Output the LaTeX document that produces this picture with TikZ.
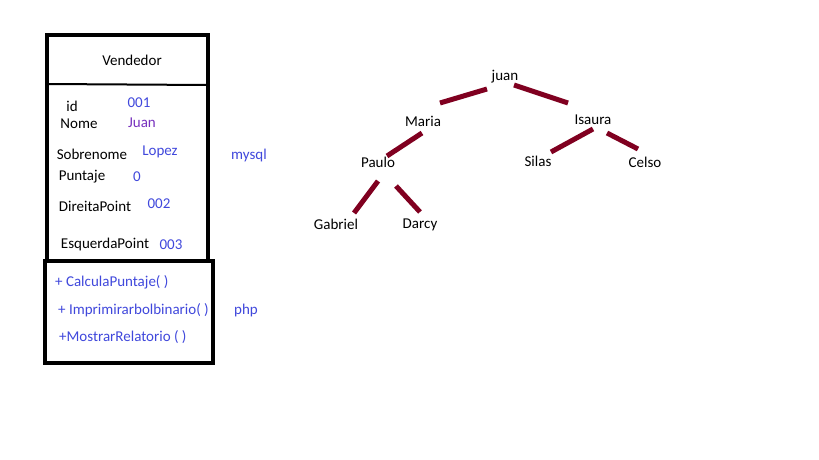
\documentclass[tikz,border=0pt]{standalone}
\usepackage{fontspec}
\setmainfont{Carlito}
\definecolor{valblue}{RGB}{64,72,220}
\definecolor{valpurple}{RGB}{120,50,190}
\definecolor{edgered}{RGB}{128,0,32}
\begin{document}
\begin{tikzpicture}[x=1pt,y=-1pt,
  every node/.style={font=\fontsize{15}{18}\selectfont, inner sep=0pt},
  lbl/.style={text=black},
  val/.style={text=valblue},
  meth/.style={text=valblue, anchor=west},
  tnode/.style={text=black},
  branch/.style={draw=edgered, line width=5pt}
]
\useasboundingbox[fill=white] (0,0) rectangle (819,460);
% class box
\draw[line width=4pt] (47,35) rectangle (208,261);
\draw[line width=2pt] (47,84) -- (207,85);
\draw[line width=4pt] (45,261) rectangle (213,363);
\node[lbl] (vend) at (132,60) {Vendedor};
\node[lbl] (id) at (72,106) {id};
\node[val] (v1) at (139,103) {001};
\node[lbl] (nome) at (79,124) {Nome};
\node[text=valpurple] (v2) at (142,123) {Juan};
\node[lbl] (sob) at (92,154) {Sobrenome};
\node[val] (v3) at (160,152) {Lopez};
\node[lbl] (punt) at (82,177) {Puntaje};
\node[val] (v4) at (137,177) {0};
\node[lbl] (dir) at (95,206) {DireitaPoint};
\node[val] (v5) at (159,204) {002};
\node[lbl] (esq) at (105,244) {EsquerdaPoint};
\node[val] (v6) at (171,245) {003};
\node[meth] (m1) at (55,282) {+ CalculaPuntaje( )};
\node[meth] (m2) at (58,310) {+ Imprimirarbolbinario( )};
\node[meth] (m3) at (59,337) {+MostrarRelatorio ( )};
\node[val] (mysql) at (249,156) {mysql};
\node[val] (php) at (246,310) {php};
% tree
\node[tnode] (juan) at (505,77) {juan};
\node[tnode] (maria) at (423,121) {Maria};
\node[tnode] (isaura) at (593,120) {Isaura};
\node[tnode] (paulo) at (378,162) {Paulo};
\node[tnode] (silas) at (538,161) {Silas};
\node[tnode] (celso) at (645,162) {Celso};
\node[tnode] (gabriel) at (336,224) {Gabriel};
\node[tnode] (darcy) at (420,225) {Darcy};
\coordinate (jm1) at (487,89); \coordinate (jm2) at (440,103);
\coordinate (ji1) at (514,85); \coordinate (ji2) at (568,103);
\coordinate (mp1) at (422,133); \coordinate (mp2) at (387,156);
\coordinate (is1) at (593,129); \coordinate (is2) at (551,152);
\coordinate (ic1) at (607,133); \coordinate (ic2) at (638,149);
\coordinate (pg1) at (378,181); \coordinate (pg2) at (354,213);
\coordinate (pd1) at (396,186); \coordinate (pd2) at (420,212);
\draw[branch] (jm1) -- (jm2);
\draw[branch] (ji1) -- (ji2);
\draw[branch] (mp1) -- (mp2);
\draw[branch] (is1) -- (is2);
\draw[branch] (ic1) -- (ic2);
\draw[branch] (pg1) -- (pg2);
\draw[branch] (pd1) -- (pd2);
\end{tikzpicture}
\end{document}
